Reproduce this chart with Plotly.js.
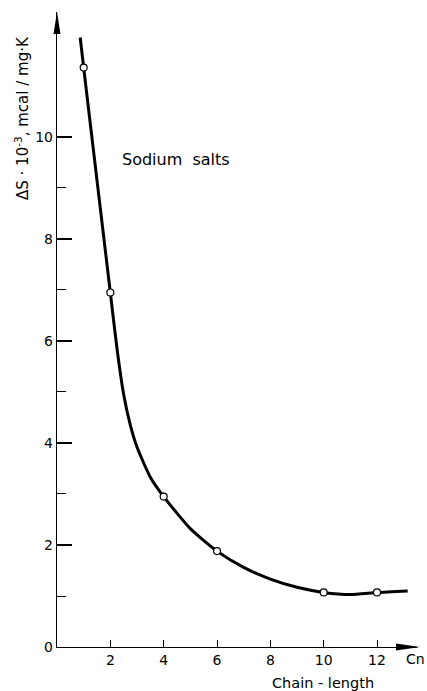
<!DOCTYPE html>
<html>
<head>
<meta charset="utf-8">
<script src="https://cdn.plot.ly/plotly-3.0.1.min.js"></script>
<style>html,body{margin:0;padding:0;background:#fff;}#chart{width:427px;height:691px;}</style>
</head>
<body>
<div id="chart"></div>
<script>
// Measured points (open circles)
const chainLength = [1, 2, 4, 6, 10, 12];
const deltaS = [11.36, 6.95, 2.95, 1.88, 1.07, 1.07];

// Smooth curve
const curveX = [0.87, 1, 1.5, 2, 2.25, 2.5, 2.75, 3, 3.5, 4, 5, 6, 7, 8, 9, 10, 11, 12, 13.15];
const curveY = [11.95, 11.36, 9.15, 6.95, 5.85, 4.95, 4.35, 3.92, 3.33, 2.95, 2.32, 1.88, 1.56, 1.33, 1.17, 1.07, 1.03, 1.07, 1.1];

const xTicks = [2, 4, 6, 8, 10, 12];
const yTicks = [0, 2, 4, 6, 8, 10];
const yMinorTicks = [1, 3, 5, 7, 9];
const xMax = 13.5, yMax = 12.45;

const FONT = "DejaVu Sans, sans-serif";

const traces = [
  {x: curveX, y: curveY, mode: 'lines', line: {color: '#000', width: 3, shape: 'spline', smoothing: 0.6}, hoverinfo: 'skip'},
  {x: chainLength, y: deltaS, mode: 'markers',
   marker: {symbol: 'circle', size: 7, color: '#fff', line: {color: '#000', width: 1.2}}}
];

const layout = {
  width: 427, height: 691,
  margin: {l: 57, r: 10, t: 12, b: 44},
  paper_bgcolor: '#fff', plot_bgcolor: '#fff',
  showlegend: false,
  font: {family: FONT, size: 14, color: '#000'},
  xaxis: {
    range: [0, xMax], showgrid: false, zeroline: false,
    showline: true, linecolor: '#000', linewidth: 1.2,
    tickvals: xTicks, ticktext: xTicks.map(String),
    ticks: 'inside', ticklen: 7, tickwidth: 1, tickcolor: '#000',
    tickfont: {family: FONT, size: 14}
  },
  yaxis: {
    range: [0, yMax], showgrid: false, zeroline: false,
    showline: true, linecolor: '#000', linewidth: 1.2,
    tickvals: yTicks, ticktext: yTicks.map(String),
    ticks: 'inside', ticklen: 15, tickwidth: 1.2, tickcolor: '#000',
    minor: {tickvals: yMinorTicks, ticks: 'inside', ticklen: 9, tickwidth: 1, tickcolor: '#000'},
    tickfont: {family: FONT, size: 14}
  },
  shapes: [
    {type: 'path', xref: 'paper', yref: 'paper', xsizemode: 'pixel', ysizemode: 'pixel',
     xanchor: 1, yanchor: 0, path: 'M3,0 L-21,3.5 L-21,-3.5 Z', fillcolor: '#000', line: {width: 0}},
    {type: 'path', xref: 'paper', yref: 'paper', xsizemode: 'pixel', ysizemode: 'pixel',
     xanchor: 0, yanchor: 1, path: 'M0,0 L-3.5,-22 L3.5,-22 Z', fillcolor: '#000', line: {width: 0}}
  ],
  annotations: [
    {text: 'Sodium&nbsp; salts', xref: 'paper', yref: 'paper', x: (120 - 57) / 360, y: 1 - (160 - 12) / 635,
     xanchor: 'left', yanchor: 'middle', showarrow: false, font: {family: FONT, size: 16}},
    {text: 'Cn', xref: 'paper', yref: 'paper', x: (427 - 57) / 360, y: -(659 - 647) / 635,
     xanchor: 'right', yanchor: 'middle', showarrow: false, font: {family: FONT, size: 14}},
    {text: 'Chain - length', xref: 'paper', yref: 'paper', x: (323 - 57) / 360, y: -(683 - 647) / 635,
     xanchor: 'center', yanchor: 'middle', showarrow: false, font: {family: FONT, size: 14.5}},
    {text: 'ΔS · 10<sup>-3</sup>, mcal / mg·K', xref: 'paper', yref: 'paper', x: (22 - 57) / 360, y: 1 - (118 - 12) / 635,
     xanchor: 'center', yanchor: 'middle', textangle: -90, showarrow: false, font: {family: FONT, size: 15}}
  ]
};

Plotly.newPlot('chart', traces, layout, {displayModeBar: false, staticPlot: true});
</script>
</body>
</html>
